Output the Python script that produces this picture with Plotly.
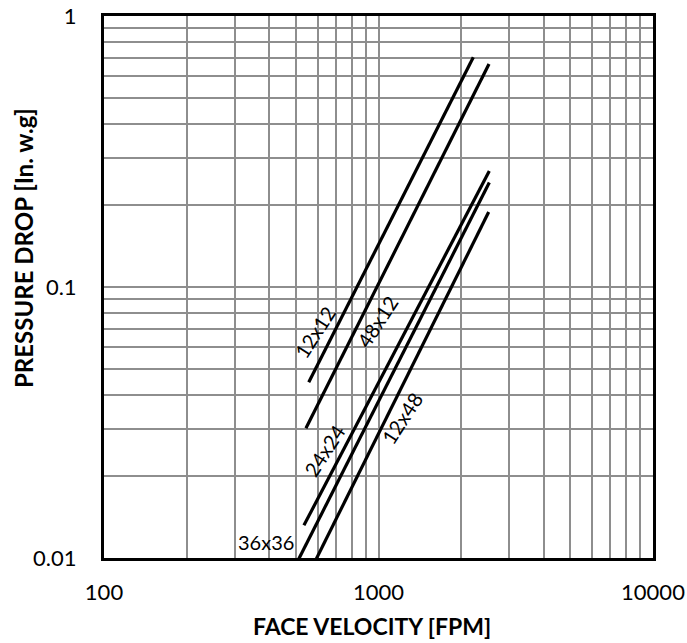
import math
import plotly.graph_objects as go

# Series data (face velocity [FPM] vs pressure drop [in. w.g])
names = ["12x12", "48x12", "24x24", "36x36", "12x48"]
vel_12x12 = [557, 2215]
dp_12x12 = [0.0445, 0.704]
vel_48x12 = [544, 2527]
dp_48x12 = [0.0301, 0.665]
vel_24x24 = [535, 2533]
dp_24x24 = [0.0132, 0.268]
vel_36x36 = [500, 2533]
dp_36x36 = [0.00945, 0.243]
vel_12x48 = [550, 2520]
dp_12x48 = [0.0085, 0.189]

# label anchor positions (data coordinates)
label_x = [587, 985, 637, 389, 1218]
label_y = [0.068, 0.0745, 0.0250, 0.01143, 0.0328]
label_angle = [-57, -57, -57, 0, -57]

x_tickvals = [m * 10 ** e for e in (2, 3) for m in range(1, 10)] + [10000]
x_ticktext = [str(v) if v in (100, 1000, 10000) else "" for v in x_tickvals]
y_tickvals = [round(m * 10.0 ** e, 4) for e in (-2, -1) for m in range(1, 10)] + [1]
y_ticktext = [{0.01: "0.01", 0.1: "0.1", 1: "1"}.get(v, "") for v in y_tickvals]

x_title = "FACE VELOCITY [FPM]"
y_title = "PRESSURE DROP [In. w.g]"

series = [
    (vel_12x12, dp_12x12),
    (vel_48x12, dp_48x12),
    (vel_24x24, dp_24x24),
    (vel_36x36, dp_36x36),
    (vel_12x48, dp_12x48),
]

fig = go.Figure()
for name, (xs, ys) in zip(names, series):
    fig.add_trace(go.Scatter(x=xs, y=ys, mode="lines", name=name,
                             line=dict(color="black", width=3.2), showlegend=False))

# annotations on log axes take log10 coordinates
for name, lx, ly, ang in zip(names, label_x, label_y, label_angle):
    fig.add_annotation(x=math.log10(lx), y=math.log10(ly), xref="x", yref="y",
                       text=name, showarrow=False, textangle=ang,
                       font=dict(family="Lato", size=20, color="black"))

# axis titles (placed as in the reference), paper coords relative to plot area
W, H = 687 - 104 - 34, 643 - 16 - 85
fig.add_annotation(x=(371.5 - 104) / W, y=(558 - 626) / H, xref="paper", yref="paper",
                   text="<b>" + x_title + "</b>", showarrow=False,
                   xanchor="center", yanchor="middle",
                   font=dict(family="Lato", size=23, color="black"))
fig.add_annotation(x=(23 - 104) / W, y=(558 - 248) / H, xref="paper", yref="paper",
                   text="<b>" + y_title + "</b>", showarrow=False, textangle=-90,
                   xanchor="center", yanchor="middle",
                   font=dict(family="Lato", size=24, color="black"))

grid = "#8e8e8e"
fig.update_layout(
    width=687, height=643,
    margin=dict(l=104, r=34, t=16, b=85),
    paper_bgcolor="white", plot_bgcolor="white",
    font=dict(family="Lato", color="black"),
    xaxis=dict(type="log", range=[2, 4], tickvals=x_tickvals, ticktext=x_ticktext,
               showgrid=True, gridcolor=grid, gridwidth=1.6, automargin=False,
               showline=True, linecolor="black", linewidth=3, mirror=True,
               ticks="", ticklabelstandoff=13, tickfont=dict(size=22),
               zeroline=False),
    yaxis=dict(type="log", range=[-2, 0], tickvals=y_tickvals, ticktext=y_ticktext,
               showgrid=True, gridcolor=grid, gridwidth=1.6, automargin=False,
               showline=True, linecolor="black", linewidth=3, mirror=True,
               ticks="", ticklabelstandoff=20, tickfont=dict(size=22),
               zeroline=False),
)

fig.write_html("out.html", config={"displayModeBar": False},
               post_script="document.body.style.margin='0';")
